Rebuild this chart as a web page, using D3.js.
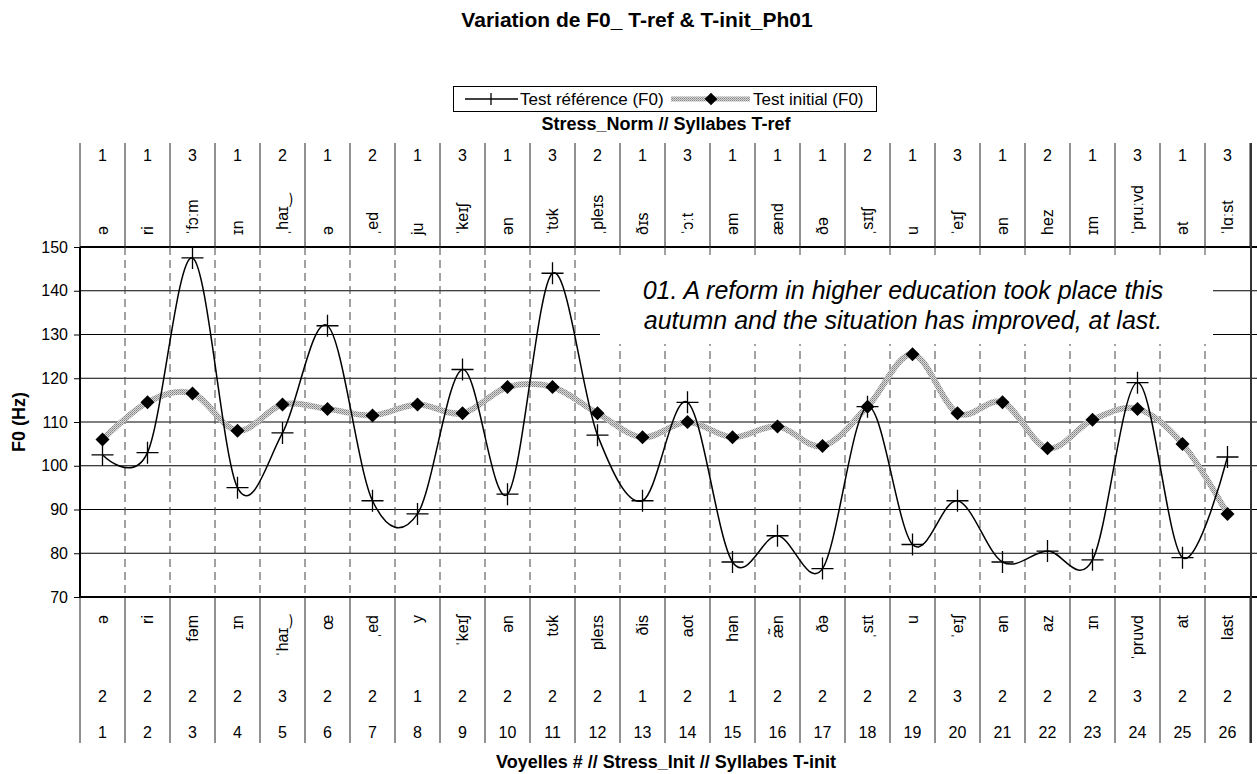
<!DOCTYPE html>
<html>
<head>
<meta charset="utf-8">
<script src="https://cdn.jsdelivr.net/npm/d3@7"></script>
<style>
  body { margin: 0; background: #fff; }
  text { font-family: "Liberation Sans", Arial, "DejaVu Sans", sans-serif; fill: #000; }
</style>
</head>
<body>
<svg id="chart" width="1257" height="774"></svg>
<script>
const vowelIndex = d3.range(1, 27);
const stressRef = [1, 1, 3, 1, 2, 1, 2, 1, 3, 1, 3, 2, 1, 3, 1, 1, 1, 2, 1, 3, 1, 2, 1, 3, 1, 3];
const stressInit = [2, 2, 2, 2, 3, 2, 2, 1, 2, 2, 2, 2, 1, 2, 1, 2, 2, 2, 2, 3, 2, 2, 2, 3, 2, 2];
const syllRef = ['ə', 'ri', 'ˈfɔːm', 'ɪn', 'ˌhaɪ‿', 'ə', 'ˌed', 'ju', 'ˈkeɪʃ', 'ən', 'ˈtʊk', 'ˌpleɪs', 'ðɪs',
  'ˈɔːt', 'əm', 'ænd', 'ðə', 'ˌsɪtʃ', 'u', 'ˈeɪʃ', 'ən', 'hez', 'ɪm', 'ˈpruːvd', 'ət', 'ˈlɑːst'];
const syllInit = ['ə', 'ri', 'fəm', 'ɪn', 'ˈhaɪ‿', 'œ', 'ˌed', 'y', 'ˈkeɪʃ', 'ən', 'tʊk', 'pleɪs', 'ðis',
  'aot', 'hən', 'æ̃n', 'ðə', 'ˌsɪt', 'u', 'ˈeɪʃ', 'ən', 'az', 'ɪn', 'ˈpruvd', 'at', 'last'];
const f0Ref = [102.5, 103, 147.5, 95, 107.5, 132, 92, 89, 122, 93.5, 144, 107, 92, 114.5, 78, 84, 76.5,
  113.5, 82, 92, 78, 80.5, 78.5, 119, 79, 102];
const f0Init = [106, 114.5, 116.5, 108, 114, 113, 111.5, 114, 112, 118, 118, 112, 106.5, 110, 106.5, 109,
  104.5, 113.5, 125.5, 112, 114.5, 104, 110.5, 113, 105, 89];
const yTicks = d3.range(70, 151, 10);

const svg = d3.select('#chart');
const pLeft = 80, pRight = 1250, pTop = 247, pBottom = 597;
const tableTop = 143, tableBottom = 743;

const x = d3.scaleBand().domain(vowelIndex).range([pLeft, pRight]);
const y = d3.scaleLinear().domain([70, 150]).range([pBottom, pTop]);
const cx = d => x(d) + x.bandwidth() / 2;

// pattern for the grey series
const defs = svg.append('defs');
const pat = defs.append('pattern').attr('id', 'grey')
    .attr('patternUnits', 'userSpaceOnUse').attr('width', 2).attr('height', 2);
pat.append('rect').attr('width', 2).attr('height', 2).attr('fill', '#d8d8d8');
pat.append('rect').attr('width', 1).attr('height', 1).attr('fill', '#808080');
pat.append('rect').attr('x', 1).attr('y', 1).attr('width', 1).attr('height', 1).attr('fill', '#a0a0a0');

// title
svg.append('text').attr('x', 637).attr('y', 27).attr('text-anchor', 'middle')
    .style('font-size', '21px').style('font-weight', 'bold')
    .text('Variation de F0_ T-ref & T-init_Ph01');

// gridlines
svg.append('g').selectAll('line').data(yTicks).enter().append('line')
    .attr('x1', pLeft).attr('x2', 1257)
    .attr('y1', d => y(d)).attr('y2', d => y(d))
    .attr('stroke', '#000').attr('stroke-width', d => (d === 70 || d === 150) ? 2 : 1);

// dashed column dividers inside plot
const bounds = d3.range(0, 27).map(i => pLeft + i * x.bandwidth());
svg.append('g').selectAll('line').data(bounds.slice(1, 26)).enter().append('line')
    .attr('x1', d => d).attr('x2', d => d).attr('y1', pTop).attr('y2', pBottom)
    .attr('stroke', '#444').attr('stroke-dasharray', '8,5');

// table dividers
const tbl = svg.append('g').attr('stroke', '#222');
tbl.selectAll('.tt').data(bounds).enter().append('line')
    .attr('x1', d => d).attr('x2', d => d).attr('y1', tableTop).attr('y2', pTop);
tbl.selectAll('.tb').data(bounds).enter().append('line')
    .attr('x1', d => d).attr('x2', d => d).attr('y1', pBottom).attr('y2', tableBottom);
svg.append('line').attr('x1', pLeft).attr('x2', pLeft).attr('y1', pTop).attr('y2', pBottom)
    .attr('stroke', '#000').attr('stroke-width', 2);
svg.append('line').attr('x1', 1251).attr('x2', 1251).attr('y1', tableTop).attr('y2', tableBottom)
    .attr('stroke', '#333').attr('stroke-width', 2);

// y axis
const yAxis = svg.append('g').attr('transform', `translate(${pLeft},0)`)
    .call(d3.axisLeft(y).tickValues(yTicks).tickSize(6).tickPadding(6));
yAxis.select('.domain').remove();
yAxis.selectAll('text').style('font-size', '16px').style('font-family', '"Liberation Sans", Arial, sans-serif');
yAxis.selectAll('line').attr('stroke', '#000');

svg.append('text').attr('transform', 'translate(25,422) rotate(-90)').attr('text-anchor', 'middle')
    .style('font-size', '18px').style('font-weight', 'bold').text('F0 (Hz)');

// top table
svg.append('text').attr('x', 666).attr('y', 130).attr('text-anchor', 'middle')
    .style('font-size', '18px').style('font-weight', 'bold').text('Stress_Norm // Syllabes T-ref');
svg.append('g').selectAll('text').data(vowelIndex).enter().append('text')
    .attr('x', d => cx(d)).attr('y', 161).attr('text-anchor', 'middle')
    .style('font-size', '16px').text((d, i) => stressRef[i]);
svg.append('g').selectAll('text').data(vowelIndex).enter().append('text')
    .attr('transform', d => `translate(${cx(d) + 5},235) rotate(-90)`)
    .attr('text-anchor', 'start')
    .style('font-size', '16px').text((d, i) => syllRef[i]);

// bottom table
svg.append('g').selectAll('text').data(vowelIndex).enter().append('text')
    .attr('transform', d => `translate(${cx(d) + 5},615) rotate(-90)`)
    .attr('text-anchor', 'end')
    .style('font-size', '16px').text((d, i) => syllInit[i]);
svg.append('g').selectAll('text').data(vowelIndex).enter().append('text')
    .attr('x', d => cx(d)).attr('y', 702).attr('text-anchor', 'middle')
    .style('font-size', '16px').text((d, i) => stressInit[i]);
svg.append('g').selectAll('text').data(vowelIndex).enter().append('text')
    .attr('x', d => cx(d)).attr('y', 738).attr('text-anchor', 'middle')
    .style('font-size', '16px').text(d => d);
svg.append('text').attr('x', 666).attr('y', 768).attr('text-anchor', 'middle')
    .style('font-size', '18px').style('font-weight', 'bold')
    .text('Voyelles # // Stress_Init // Syllabes T-init');

// sentence box
svg.append('rect').attr('x', 600).attr('y', 259).attr('width', 613).attr('height', 85).attr('fill', '#fff');
const note = svg.append('text').attr('text-anchor', 'middle')
    .style('font-size', '25px').style('font-style', 'italic');
note.append('tspan').attr('x', 903).attr('y', 299)
    .text('01. A reform in higher education took place this');
note.append('tspan').attr('x', 903).attr('y', 329)
    .text('autumn and the situation has improved, at last.');

// series
const line = d3.line().x((d, i) => cx(vowelIndex[i])).y(d => y(d)).curve(d3.curveCatmullRom.alpha(0));
svg.append('path').attr('d', line(f0Init)).attr('fill', 'none')
    .attr('stroke', 'url(#grey)').attr('stroke-width', 6);
svg.append('path').attr('d', line(f0Ref)).attr('fill', 'none')
    .attr('stroke', '#000').attr('stroke-width', 1.5);

const crossPath = 'M-11,0H11M0,-11V11';
const diamondPath = 'M0,-7L7,0L0,7L-7,0Z';
svg.append('g').selectAll('path').data(f0Init).enter().append('path')
    .attr('d', diamondPath).attr('fill', '#000')
    .attr('transform', (d, i) => `translate(${cx(vowelIndex[i])},${y(d)})`);
svg.append('g').selectAll('path').data(f0Ref).enter().append('path')
    .attr('d', crossPath).attr('stroke', '#000').attr('stroke-width', 1.3)
    .attr('transform', (d, i) => `translate(${cx(vowelIndex[i])},${y(d)})`);

// legend
const lg = svg.append('g');
lg.append('rect').attr('x', 453.5).attr('y', 86.5).attr('width', 423).attr('height', 25)
    .attr('fill', '#fff').attr('stroke', '#000');
lg.append('line').attr('x1', 465).attr('x2', 518).attr('y1', 99).attr('y2', 99)
    .attr('stroke', '#000').attr('stroke-width', 1.5);
lg.append('path').attr('d', 'M0,-6V6').attr('stroke', '#000').attr('stroke-width', 1.3)
    .attr('transform', 'translate(491,99)');
lg.append('text').attr('x', 520).attr('y', 105).style('font-size', '17px').text('Test référence (F0)');
lg.append('line').attr('x1', 671).attr('x2', 750).attr('y1', 99).attr('y2', 99)
    .attr('stroke', 'url(#grey)').attr('stroke-width', 5);
lg.append('path').attr('d', diamondPath).attr('fill', '#000').attr('transform', 'translate(711,99) scale(0.9)');
lg.append('text').attr('x', 753).attr('y', 105).style('font-size', '17px').text('Test initial (F0)');
</script>
</body>
</html>
